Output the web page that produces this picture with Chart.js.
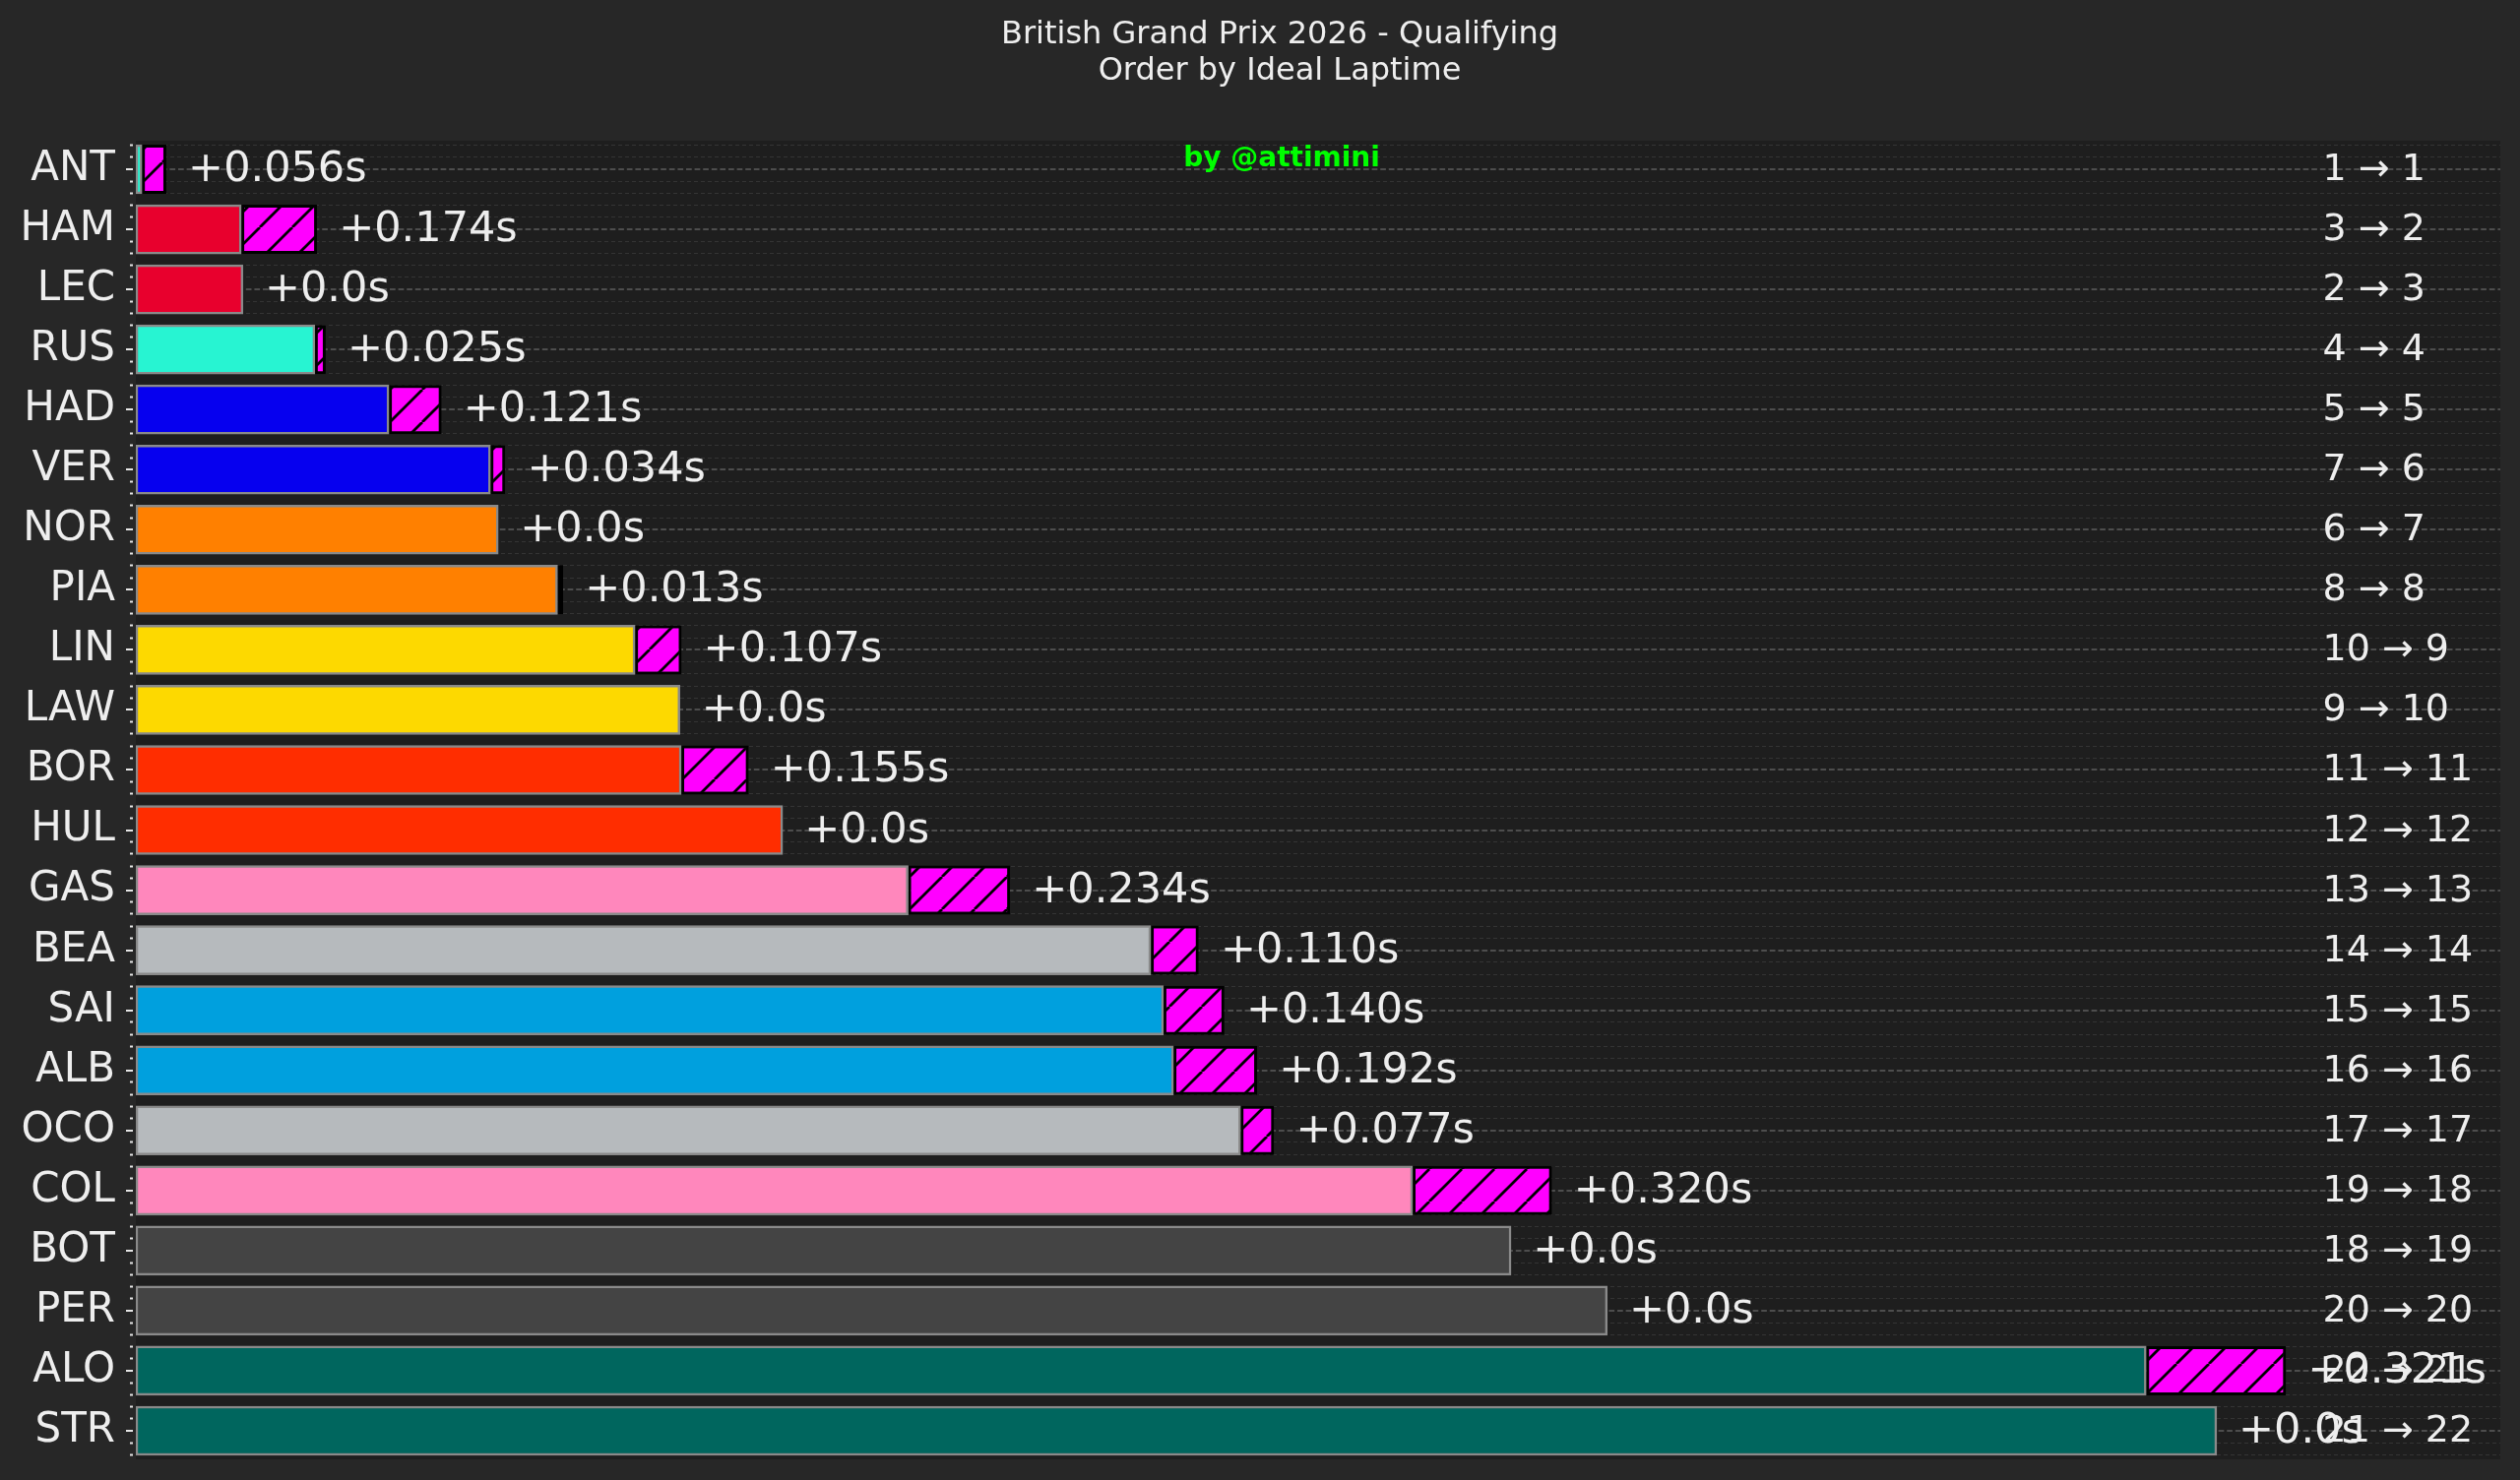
<!DOCTYPE html>
<html>
<head>
<meta charset="utf-8">
<script src="https://cdn.jsdelivr.net/npm/chart.js@4.4.1/dist/chart.umd.min.js"></script>
<style>
html,body{margin:0;padding:0;background:#272727;}
canvas{display:block;}
</style>
</head>
<body>
<canvas id="c" width="2560" height="1504"></canvas>
<script>
// ---- data ----
const drivers = ['ANT','HAM','LEC','RUS','HAD','VER','NOR','PIA','LIN','LAW','BOR','HUL','GAS','BEA','SAI','ALB','OCO','COL','BOT','PER','ALO','STR'];
const idealGap = [0.014,0.242,0.246,0.411,0.581,0.814,0.832,0.968,1.146,1.249,1.252,1.485,1.773,2.330,2.359,2.382,2.536,2.931,3.157,3.378,4.615,4.777];
const deltaToIdeal = [0.056,0.174,0,0.025,0.121,0.034,0,0.013,0.107,0,0.155,0,0.234,0.110,0.140,0.192,0.077,0.320,0,0,0.321,0];
const actualPos = [1,3,2,4,5,7,6,8,10,9,11,12,13,14,15,16,17,19,18,20,22,21];
const idealPos = [1,2,3,4,5,6,7,8,9,10,11,12,13,14,15,16,17,18,19,20,21,22];
const teamColors = ['#27F4D2','#E8002D','#E8002D','#27F4D2','#0600EF','#0600EF','#FF8000','#FF8000','#FDD900','#FDD900','#FF2D00','#FF2D00','#FF87BC','#B6BABD','#00A0DE','#00A0DE','#B6BABD','#FF87BC','#444444','#444444','#00665E','#00665E'];
const titleLines = ['British Grand Prix 2026 - Qualifying','Order by Ideal Laptime'];
const watermark = 'by @attimini';

// ---- styling ----
const FIG_BG = '#272727', AX_BG = '#1e1e1e', TXT = '#eeeeee';
const FONT = '"DejaVu Sans", sans-serif';
const X_MAX = 5.428, RANK_X = 5.020, LABEL_GAP = 0.05;

const canvas = document.getElementById('c');
const ctx0 = canvas.getContext('2d');
function makeHatch(){
  const s = 33;
  const t = document.createElement('canvas'); t.width = s; t.height = s;
  const g = t.getContext('2d');
  g.fillStyle = '#ff00ff'; g.fillRect(0,0,s,s);
  g.strokeStyle = '#000'; g.lineWidth = 2.8;
  g.beginPath();
  for (const k of [-s,0,s]) { g.moveTo(k, s); g.lineTo(k+s, 0); }
  g.stroke();
  return ctx0.createPattern(t,'repeat');
}
const hatch = makeHatch();
const isMajor = v => Math.abs(v - Math.round(v)) < 1e-6;
const tickMajor = c => !c || !c.tick || isMajor(c.tick.value);

const bgPlugin = {
  id:'bg',
  beforeDraw(chart){
    const {ctx, chartArea:a} = chart;
    ctx.save();
    ctx.fillStyle = FIG_BG; ctx.fillRect(0,0,chart.width,chart.height);
    ctx.fillStyle = AX_BG; ctx.fillRect(a.left,a.top,a.right-a.left,a.bottom-a.top);
    ctx.fillStyle = TXT; ctx.textAlign = 'center'; ctx.textBaseline = 'middle';
    ctx.font = '32px ' + FONT;
    ctx.fillText(titleLines[0], 1300, 36);
    ctx.fillText(titleLines[1], 1300, 73);
    ctx.restore();
  }
};
const textPlugin = {
  id:'texts',
  afterDatasetsDraw(chart){
    const {ctx} = chart; const xs = chart.scales.x, ys = chart.scales.y;
    ctx.save();
    ctx.fillStyle = TXT; ctx.textAlign = 'left'; ctx.textBaseline = 'alphabetic';
    ctx.font = '43px ' + FONT;
    drivers.forEach((d,i)=>{
      const total = idealGap[i] + deltaToIdeal[i];
      const lbl = deltaToIdeal[i] === 0 ? '+0.0s' : '+' + deltaToIdeal[i].toFixed(3) + 's';
      ctx.fillText(lbl, xs.getPixelForValue(total + LABEL_GAP), ys.getPixelForValue(i) + 12);
    });
    ctx.font = '38px ' + FONT;
    drivers.forEach((d,i)=>{
      ctx.fillText(actualPos[i] + ' \u2192 ' + idealPos[i], xs.getPixelForValue(RANK_X), ys.getPixelForValue(i) + 11);
    });
    ctx.font = 'bold 28px ' + FONT;
    ctx.fillStyle = '#00ff00'; ctx.textAlign = 'center';
    ctx.fillText(watermark, 1302, 169);
    ctx.restore();
  }
};

new Chart(canvas, {
  type:'bar',
  data:{
    datasets:[
      { label:'Ideal', data: drivers.map((d,i)=>({x:idealGap[i], y:i})),
        backgroundColor: teamColors, borderColor:'#8a8a8a', borderWidth:2.5, borderSkipped:false, barThickness:50 },
      { label:'Delta', data: drivers.map((d,i)=>({x: deltaToIdeal[i] === 0 ? null : deltaToIdeal[i], y:i})),
        backgroundColor: hatch, borderColor:'#000000', borderWidth:3, borderSkipped:false, barThickness:50, inflateAmount:0 }
    ]
  },
  options:{
    indexAxis:'y',
    responsive:false,
    devicePixelRatio:1,
    animation:false,
    layout:{padding:{left:0,right:20,top:143,bottom:21}},
    plugins:{
      legend:{display:false},
      tooltip:{enabled:false},
      title:{display:false}
    },
    scales:{
      x:{type:'linear', min:0, max:X_MAX, display:false, stacked:true},
      y:{type:'linear', reverse:true, min:-0.475, max:21.475, stacked:true, offset:false,
        afterBuildTicks(scale){ const t=[]; for(let k=-2;k<=107;k++) t.push({value:k/5}); scale.ticks=t; },
        afterFit(scale){ scale.width = 138; scale.paddingTop = 0; scale.paddingBottom = 0; },
        border:{display:false, dash: c => tickMajor(c) ? [5.7,2.9] : [4,3]},
        grid:{
          offset:false,
          color: c => tickMajor(c) ? '#4d4d4d' : '#343434',
          lineWidth: c => tickMajor(c) ? 2 : 1,
          tickLength:10, tickWidth:2, tickColor:'#e6e6e6',
          tickBorderDash: c => tickMajor(c) ? [7,100] : [0,4,3,100]
        },
        ticks:{autoSkip:false, padding:11, color:TXT, font:{family:FONT,size:42},
          callback:(v)=> isMajor(v) ? drivers[Math.round(v)] : ''}
      }
    }
  },
  plugins:[bgPlugin, textPlugin]
});
</script>
</body>
</html>
